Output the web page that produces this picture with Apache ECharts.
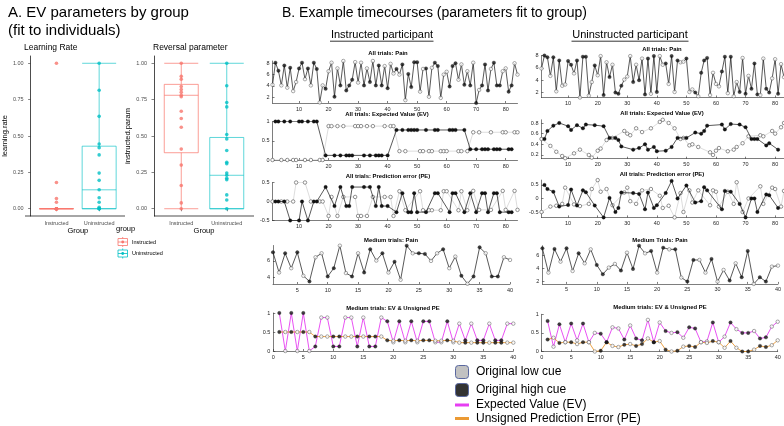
<!DOCTYPE html>
<html><head><meta charset="utf-8">
<script src="https://cdn.jsdelivr.net/npm/echarts@6/dist/echarts.min.js"></script>
<style>html,body{margin:0;padding:0;background:#fff}#c{width:784px;height:426px}</style>
</head><body><div id="c"></div>
<script>
// ---------------- DATA ----------------
const groups = ['Instructed', 'Uninstructed'];
const lrInstructed = [1.0, 0.18, 0.07, 0.045, 0, 0, 0, 0, 0, 0, 0, 0, 0, 0, 0, 0];
const lrUninstructed = [1.0, 0.815, 0.635, 0.445, 0.42, 0.37, 0.245, 0.195, 0.13, 0.075, 0.045, 0.01, 0, 0, 0];
const rpInstructed = [1.0, 0.91, 0.89, 0.84, 0.82, 0.80, 0.78, 0.77, 0.67, 0.62, 0.56, 0.41, 0.30, 0.16, 0.04, 0];
const rpUninstructed = [1.0, 0.845, 0.73, 0.70, 0.51, 0.48, 0.40, 0.32, 0.31, 0.245, 0.23, 0.21, 0.20, 0.095, 0.06, 0];
// box stats [min, Q1, median, Q3, max]
const lrBoxInstructed = [0, 0, 0, 0, 0];
const lrBoxUninstructed = [0, 0, 0.13, 0.43, 1.0];
const rpBoxInstructed = [0, 0.385, 0.78, 0.855, 1.0];
const rpBoxUninstructed = [0, 0, 0.23, 0.49, 1.0];
const boxTicks = [0, 0.25, 0.5, 0.75, 1];

// Instructed participant, all trials (cue: 1 = high cue, 0 = low cue)
const instrCue = [0,1,1,0,1,0,1,0,0,1, 1,0,1,0,1,1,0,0,1,0, 0,1,0,1,0,1,1,1,0,0, 0,1,0,1,0,1,1,1,0,1, 0,0,1,0,1,0,1,1,1,1, 0,0,1,0,0,1,1,0,0,0, 1,1,1,0,0,1,0,1,0,1, 0,1,1,1,0,1,1,1,0,0, 1,1,0,0];
const instrPain = [4.2,8.1,6.7,4.1,7.6,3.7,7.2,3.1,4.7,7.1, 8.1,5.2,7.1,4.1,8.1,7.0,1.1,4.1,3.5,6.6, 8.1,2.1,7.1,4.1,8.4,3.2,4.1,5.1,8.2,4.6, 8.1,4.1,7.1,4.7,8.4,4.1,7.6,4.1,7.5,3.6, 7.9,6.2,7.0,6.0,7.8,1.5,6.1,3.8,8.2,8.2, 3.0,7.0,7.1,2.1,7.2,8.1,7.5,1.9,6.0,6.5, 3.9,7.5,8.0,5.1,7.8,4.2,6.6,4.1,8.1,1.0, 3.3,4.1,7.8,3.2,7.0,8.1,4.1,4.1,6.6,7.1, 3.0,4.1,8.0,6.0];
const instrEV = [0,1,1,0,1,0,1,0,0,1, 1,0,1,0,1,1,0,0,0.12,0.88, 0.88,0.12,0.88,0.12,0.88,0.12,0.12,0.12,0.88,0.88, 0.88,0.12,0.88,0.12,0.88,0.12,0.12,0.12,0.88,0.12, 0.88,0.88,0.78,0.23,0.78,0.23,0.78,0.78,0.78,0.78, 0.23,0.23,0.78,0.23,0.23,0.78,0.78,0.23,0.23,0.23, 0.78,0.78,0.78,0.23,0.23,0.78,0.23,0.28,0.72,0.28, 0.72,0.28,0.28,0.28,0.72,0.28,0.28,0.28,0.72,0.72, 0.28,0.28,0.72,0.72];
const instrPE = [0,0,0,0,0,0,-0.5,0,0.5,-0.5, 0,0.5,-0.5,0,0,0,0,0,0.38,-0.38, 0.12,-0.12,-0.38,0.38,0.12,-0.12,-0.12,0.38,0.12,-0.38, -0.38,0.38,-0.38,0.38,0.12,-0.12,0.38,-0.12,0.12,-0.12, 0.12,-0.38,-0.28,0.27,0.22,-0.23,-0.28,-0.28,0.22,-0.28, 0.27,-0.23,-0.28,-0.23,-0.23,0.22,0.22,-0.23,0.27,0.27, -0.28,0.22,0.22,-0.23,0.27,-0.28,-0.23,0.22,0.28,-0.28, -0.22,0.22,0.22,-0.28,-0.22,0.22,0.22,-0.28,0.28,-0.22, -0.28,-0.28,0.28,-0.22];
// Instructed participant, medium trials
const instrMedCue = [1,0,1,0,1,0,1,0,0,1, 1,0,0,1,0,1,1,0,1,0, 1,0,1,0,1,1,0,0,1,0, 0,1,0,1,1,0,1,1,0,0];
const instrMedPain = [7.06,4.57,6.94,5.1,7.06,4.16,3.47,6.45,6.94,4.08, 5.1,7.88,4.5,4.08,6.94,4.57,7.43,6.04,6.94,4.57, 5.9,3.67,7.88,6.94,6.94,6.86,6.0,6.94,7.43,5.1, 6.53,4.16,3.18,4.08,7.67,6.94,4.08,4.08,6.45,6.12];
const instrMedEV = [1,0,1,0,1,0,0.12,0.88,0.88,0.12, 0.12,0.88,0.88,0.12,0.88,0.12,0.12,0.88,0.78,0.23, 0.78,0.23,0.78,0.23,0.78,0.78,0.23,0.23,0.78,0.23, 0.72,0.28,0.72,0.28,0.28,0.72,0.28,0.28,0.72,0.72];
const instrMedPE = [0.5,0.5,0.5,0.5,0.5,0.5,0.38,0.38,0.38,0.38, 0.38,0.38,0.38,0.38,0.38,0.38,0.38,0.38,0.28,0.27, 0.28,0.27,0.28,0.27,0.28,0.28,0.27,0.27,0.28,0.27, 0.22,0.22,0.22,0.22,0.22,0.22,0.22,0.22,0.22,0.22];

// Uninstructed participant, all trials
const uninCue = [0,1,1,0,1,0,1,0,0,1, 1,0,1,0,1,1,0,0,1,0, 0,1,0,1,0,1,1,1,0,0, 0,1,0,1,0,1,1,0,1,1, 0,0,1,0,1,0,1,0,0,1, 0,0,1,0,1,1,1,0,0,0, 0,1,1,0,1,0,0,1,0,1, 0,1,1,1,0,0,1,1,0,0, 1,0,0];
const uninPain = [5.9,8.0,7.7,4.7,7.7,2.2,7.2,3.1,3.3,7.1, 6.5,5.1,7.2,1.2,7.8,7.8,1.5,3.7,6.4,4.8, 7.9,1.6,6.9,4.5,6.5,2.0,1.8,3.1,4.1,4.6, 7.9,3.7,6.5,4.0,7.5,1.7,7.5,1.8,7.9,2.1, 7.9,6.5,6.7,3.4,7.9,2.1,7.2,6.9,7.0,7.5, 2.1,2.5,2.0,1.4,5.2,7.2,7.6,1.6,5.2,3.4, 3.0,5.4,7.8,1.9,7.8,1.4,3.7,2.1,7.6,1.8, 4.7,2.6,6.7,1.7,1.6,7.5,2.6,2.0,4.3,7.4, 1.8,6.6,4.5];
const uninEV = [0.50,0.50,0.65,0.37,0.75,0.26,0.80,0.18,0.14,0.74, 0.67,0.23,0.76,0.30,0.70,0.77,0.20,0.15,0.76,0.28, 0.32,0.74,0.48,0.52,0.52,0.52,0.48,0.36,0.65,0.60, 0.57,0.30,0.70,0.33,0.63,0.40,0.30,0.70,0.35,0.27, 0.82,0.86,0.28,0.80,0.35,0.70,0.52,0.50,0.52,0.52, 0.38,0.40,0.62,0.35,0.60,0.65,0.75,0.25,0.20,0.28, 0.33,0.77,0.68,0.27,0.78,0.30,0.35,0.77,0.42,0.72, 0.55,0.50,0.50,0.50,0.57,0.55,0.38,0.42,0.65,0.60, 0.30,0.72,0.80];
const uninPE = [-0.50,0.50,0.35,-0.30,0.25,-0.27,-0.30,-0.20,0.40,-0.24, 0.33,-0.22,-0.26,-0.28,0.30,0.23,-0.20,0.35,-0.26,0.68, 0.25,-0.70,0.35,0.02,-0.25,-0.50,-0.35,0.22,0.22,0.40, -0.10,0.20,-0.20,0.17,0.30,-0.40,0.22,0.35,-0.35,-0.25, 0.10,-0.35,0.20,-0.27,0.65,-0.70,0.00,0.20,-0.50,0.48, 0.30,-0.15,-0.15,0.30,-0.10,0.42,0.30,-0.25,0.30,0.25, -0.30,-0.40,0.28,0.25,0.25,-0.20,0.60,-0.20,-0.50,-0.70, 0.00,0.00,0.00,-0.50,0.45,-0.20,0.15,0.12,0.40,0.35, -0.35,-0.30,0.28];
// Uninstructed participant, medium trials
const uninMedCue = [1,0,1,0,1,0,1,0,0,1, 1,0,0,1,0,1,1,0,1,0, 1,0,1,0,1,1,0,0,1,0, 0,1,0,1,1,0,1,1,0,0];
const uninMedPain = [7.0,3.35,6.9,5.0,7.0,3.6,6.25,4.75,6.85,4.5, 3.1,4.1,4.65,3.65,6.35,3.9,7.4,6.25,6.6,3.35, 7.1,6.85,6.85,2.6,2.0,5.25,5.25,3.35,5.4,2.0, 3.75,2.15,4.75,2.65,6.6,1.65,2.65,2.0,4.25,4.4];
const uninMedEV = [0.82,0.13,0.73,0.25,0.75,0.30,0.75,0.25,0.50,0.48, 0.25,0.65,0.62,0.32,0.70,0.35,0.30,0.85,0.25,0.78, 0.55,0.50,0.52,0.37,0.65,0.62,0.25,0.27,0.78,0.25, 0.40,0.78,0.60,0.50,0.50,0.55,0.35,0.38,0.67,0.80];
const uninMedPE = [0.32,0.37,0.23,0.25,0.25,0.20,0.25,0.25,0.00,0.02, 0.25,0.15,0.12,0.18,0.20,0.15,0.20,0.35,0.25,0.28, 0.05,0.00,0.02,0.13,0.15,0.12,0.25,0.23,0.28,0.25, 0.10,0.28,0.10,0.00,0.00,0.05,0.15,0.12,0.17,0.30];

// tick labels
const xTicksAll = [10,20,30,40,50,60,70,80];
const xTicksMedPain = [5,10,15,20,25,30,35,40];
const xTicksMedEV = [0,5,10,15,20,25,30,35,40];

// ---------------- CHART ----------------
const FONT = '"Liberation Sans", Arial, Helvetica, sans-serif';
const RED = '#F8766D', TEAL = '#00BFC4';
const MAG = '#e63ef2', ORA = '#eb9a34';
const chart = echarts.init(document.getElementById('c'), null, {renderer: 'canvas'});

const grids = [], xAxes = [], yAxes = [], series = [], G = [];

function txt(x, y, text, size, o = {}) {
  G.push({type: 'text', x, y, silent: true, z: 10, style: {
    text, font: (o.bold ? 'bold ' : '') + size + 'px ' + FONT, fill: o.color || '#000',
    textAlign: o.align || 'left', align: o.align || 'left',
    textVerticalAlign: 'middle', verticalAlign: 'middle'}});
}
function ln(x1, y1, x2, y2, color, w) {
  G.push({type: 'line', silent: true, z: 10, shape: {x1, y1, x2, y2}, style: {stroke: color, lineWidth: w}});
}

const AX = '#262626';
function mAxis(ticks, fmt) {
  return {
    axisLine: {show: true, onZero: false, lineStyle: {color: AX, width: 0.6}},
    axisTick: {show: true, inside: true, length: 2, customValues: ticks, lineStyle: {color: AX, width: 0.6}},
    axisLabel: {customValues: ticks, fontSize: 5.5, color: AX, fontFamily: FONT, margin: 3, formatter: fmt},
    splitLine: {show: false}
  };
}
function panel(rect, xr, xt, yr, yt) {
  const gi = grids.length;
  grids.push({left: rect[0], top: rect[1], width: rect[2], height: rect[3], containLabel: false});
  xAxes.push(Object.assign({type: 'value', gridIndex: gi, min: xr[0], max: xr[1]}, mAxis(xt)));
  yAxes.push(Object.assign({type: 'value', gridIndex: gi, min: yr[0], max: yr[1]}, mAxis(yt)));
  return gi;
}
const allPts = (vals) => vals.map((v, i) => [i + 1, v]);
const cuePts = (cue, vals, c) => { const o = []; cue.forEach((k, i) => { if (k === c) o.push([i + 1, vals[i]]); }); return o; };

const SYM = 3.5;
const FILLED = {color: '#141414', borderColor: '#000', borderWidth: 0.3};
const OPEN = {color: '#ffffff', borderColor: '#4a4a4a', borderWidth: 0.6};

function painSeries(gi, cue, vals) {
  series.push({type: 'line', xAxisIndex: gi, yAxisIndex: gi, data: allPts(vals), symbol: 'none',
    lineStyle: {color: '#111', width: 0.7}, silent: true, animation: false, z: 2});
  series.push({type: 'scatter', xAxisIndex: gi, yAxisIndex: gi, data: cuePts(cue, vals, 1), symbolSize: SYM, itemStyle: FILLED, silent: true, animation: false, z: 3});
  series.push({type: 'scatter', xAxisIndex: gi, yAxisIndex: gi, data: cuePts(cue, vals, 0), symbolSize: SYM, itemStyle: OPEN, silent: true, animation: false, z: 3});
}
function cueSeries(gi, cue, vals) {
  series.push({type: 'line', xAxisIndex: gi, yAxisIndex: gi, data: cuePts(cue, vals, 0), symbol: 'circle', symbolSize: SYM,
    showAllSymbol: true, itemStyle: OPEN, lineStyle: {color: '#cdcdcd', width: 0.7}, silent: true, animation: false, z: 2});
  series.push({type: 'line', xAxisIndex: gi, yAxisIndex: gi, data: cuePts(cue, vals, 1), symbol: 'circle', symbolSize: SYM,
    showAllSymbol: true, itemStyle: FILLED, lineStyle: {color: '#111', width: 0.7}, silent: true, animation: false, z: 3});
}
function medSeries(gi, cue, ev, pe) {
  series.push({type: 'line', xAxisIndex: gi, yAxisIndex: gi, data: allPts(ev), symbol: 'none', lineStyle: {color: MAG, width: 0.9}, silent: true, animation: false, z: 2});
  series.push({type: 'line', xAxisIndex: gi, yAxisIndex: gi, data: allPts(pe), symbol: 'none', lineStyle: {color: ORA, width: 0.9}, silent: true, animation: false, z: 2});
  [ev, pe].forEach(v => {
    series.push({type: 'scatter', xAxisIndex: gi, yAxisIndex: gi, data: cuePts(cue, v, 1), symbolSize: SYM, itemStyle: FILLED, silent: true, animation: false, z: 3});
    series.push({type: 'scatter', xAxisIndex: gi, yAxisIndex: gi, data: cuePts(cue, v, 0), symbolSize: SYM, itemStyle: OPEN, silent: true, animation: false, z: 3});
  });
}

// ----- Panel A: boxplots -----
function boxPanel(left, title, yName, yGap, boxI, boxU, ptsI, ptsU) {
  const gi = grids.length;
  grids.push({left: left + 4.5, top: 56, width: 91, height: 160, containLabel: false});
  xAxes.push({type: 'category', gridIndex: gi, data: groups,
    axisLine: {show: false}, axisTick: {show: true, alignWithLabel: true, length: 2.5, lineStyle: {color: '#333', width: 0.6}},
    axisLabel: {fontSize: 5.5, color: '#4d4d4d', fontFamily: FONT, margin: 4},
    name: 'Group', nameLocation: 'middle', nameGap: 10, nameTextStyle: {fontSize: 7.5, color: '#000', fontFamily: FONT}});
  yAxes.push({type: 'value', gridIndex: gi, min: -0.05, max: 1.05, offset: 4.5,
    axisLine: {show: true, onZero: false, lineStyle: {color: '#000', width: 0.7}},
    axisTick: {show: true, length: 2.5, customValues: boxTicks, lineStyle: {color: '#333', width: 0.6}},
    axisLabel: {customValues: boxTicks, fontSize: 5.5, color: '#4d4d4d', fontFamily: FONT, margin: 7, formatter: v => v.toFixed(2)},
    splitLine: {show: false},
    name: yName, nameLocation: 'middle', nameRotate: 90, nameGap: yGap, nameTextStyle: {fontSize: 7.5, color: '#000', fontFamily: FONT}});
  series.push({type: 'boxplot', xAxisIndex: gi, yAxisIndex: gi, boxWidth: [34, 34], silent: true, animation: false,
    itemStyle: {color: '#fff', borderWidth: 0.9},
    data: [{value: boxI, itemStyle: {borderColor: 'rgba(248,118,109,0.8)'}}, {value: boxU, itemStyle: {borderColor: 'rgba(0,191,196,0.7)'}}]});
  series.push({type: 'scatter', xAxisIndex: gi, yAxisIndex: gi, data: ptsI.map(v => [0, v]), symbolSize: 3.6, itemStyle: {color: RED}, silent: true, animation: false, z: 4});
  series.push({type: 'scatter', xAxisIndex: gi, yAxisIndex: gi, data: ptsU.map(v => [1, v]), symbolSize: 3.6, itemStyle: {color: TEAL}, silent: true, animation: false, z: 4});
  ln(left, 216, left + 100, 216, '#000', 0.7);
  txt(left - 1, 48, title, 8.5);
}
boxPanel(25, 'Learning Rate', 'learning.rate', 20, lrBoxInstructed, lrBoxUninstructed, lrInstructed, lrUninstructed);
boxPanel(154, 'Reversal parameter', 'instructed.param', 22, rpBoxInstructed, rpBoxUninstructed, rpInstructed, rpUninstructed);

// group legend
txt(116, 229, 'group', 7.5);
[[RED, 'Instructed', 242], [TEAL, 'Uninstructed', 253.5]].forEach(([c, label, y]) => {
  ln(122.7, y - 5, 122.7, y + 5, c, 0.8);
  G.push({type: 'rect', silent: true, z: 10, shape: {x: 118, y: y - 3.5, width: 9.5, height: 7}, style: {fill: '#fff', stroke: c, lineWidth: 0.8}});
  ln(118, y, 127.5, y, c, 0.8);
  G.push({type: 'circle', silent: true, z: 11, shape: {cx: 122.7, cy: y, r: 1.4}, style: {fill: c}});
  txt(132, y, label, 5.5);
});

// ----- Panel B -----
const g1 = panel([272.5, 61, 245, 42], [1, 84], xTicksAll, [1, 8.4], [2, 4, 6, 8]);
painSeries(g1, instrCue, instrPain);
const g2 = panel([272.5, 121.5, 245, 38.5], [1, 84], xTicksAll, [0, 1], [0, 0.5, 1]);
cueSeries(g2, instrCue, instrEV);
const g3 = panel([272.5, 182.5, 245, 38], [1, 84], xTicksAll, [-0.5, 0.5], [-0.5, 0, 0.5]);
cueSeries(g3, instrCue, instrPE);
const g4 = panel([273, 245.5, 237, 38.5], [1, 40], xTicksMedPain, [3.15, 7.9], [4, 6]);
painSeries(g4, instrMedCue, instrMedPain);
const g5 = panel([273.3, 313, 240, 38], [0, 40], xTicksMedEV, [0, 1], [0, 0.5, 1]);
medSeries(g5, instrMedCue, instrMedEV, instrMedPE);

const h1 = panel([541.5, 55.5, 242.5, 42], [1, 83], xTicksAll, [1.2, 8.0], [2, 4, 6, 8]);
painSeries(h1, uninCue, uninPain);
const h2 = panel([541.5, 119.8, 242.5, 38.9], [1, 83], xTicksAll, [0.13, 0.86], [0.2, 0.4, 0.6, 0.8]);
cueSeries(h2, uninCue, uninEV);
const h3 = panel([541.5, 180.1, 242.5, 37.3], [1, 83], xTicksAll, [-0.7, 0.68], [-0.5, 0, 0.5]);
cueSeries(h3, uninCue, uninPE);
const h4 = panel([542.4, 245.7, 236.6, 38.2], [1, 40], xTicksMedPain, [1.65, 7.4], [2, 4, 6]);
painSeries(h4, uninMedCue, uninMedPain);
const h5 = panel([541.7, 314.3, 236, 37.2], [0, 40], xTicksMedEV, [0, 1], [0, 0.5, 1]);
medSeries(h5, uninMedCue, uninMedEV, uninMedPE);

// titles
txt(8, 13, 'A. EV parameters by group', 15);
txt(8, 30.5, '(fit to individuals)', 15);
txt(282, 13.5, 'B. Example timecourses (parameters fit to group)', 14);
txt(382, 35, 'Instructed participant', 11, {align: 'center'});
ln(330, 41.2, 433.5, 41.2, '#000', 0.8);
txt(630, 35, 'Uninstructed participant', 11, {align: 'center'});
ln(571.5, 41.2, 688.5, 41.2, '#000', 0.8);

const ST = 5.9;
txt(388, 53, 'All trials: Pain', ST, {align: 'center', bold: true});
txt(387, 114, 'All trials: Expected Value (EV)', ST, {align: 'center', bold: true});
txt(388, 176, 'All trials: Prediction error (PE)', ST, {align: 'center', bold: true});
txt(391, 240, 'Medium trials: Pain', ST, {align: 'center', bold: true});
txt(393, 308, 'Medium trials: EV & Unsigned PE', ST, {align: 'center', bold: true});
txt(662, 49, 'All trials: Pain', ST, {align: 'center', bold: true});
txt(662, 113, 'All trials: Expected Value (EV)', ST, {align: 'center', bold: true});
txt(662, 174, 'All trials: Prediction error (PE)', ST, {align: 'center', bold: true});
txt(660, 240, 'Medium Trials: Pain', ST, {align: 'center', bold: true});
txt(660, 307, 'Medium trials: EV & Unsigned PE', ST, {align: 'center', bold: true});

// bottom legend
G.push({type: 'rect', silent: true, z: 10, shape: {x: 455.5, y: 365.5, width: 13, height: 13, r: 3}, style: {fill: '#c2c2c2', stroke: '#5a68a0', lineWidth: 1}});
G.push({type: 'rect', silent: true, z: 10, shape: {x: 455.5, y: 383.5, width: 13, height: 13, r: 3}, style: {fill: '#333333', stroke: '#5a68a0', lineWidth: 1}});
ln(455, 405, 469, 405, MAG, 3);
ln(455, 418.5, 469, 418.5, ORA, 3);
txt(476, 372, 'Original low cue', 12);
txt(476, 390, 'Original high cue', 12);
txt(476, 405, 'Expected Value (EV)', 12);
txt(476, 418.5, 'Unsigned Prediction Error (PE)', 12);

chart.setOption({
  animation: false,
  backgroundColor: '#fff',
  textStyle: {fontFamily: FONT},
  grid: grids, xAxis: xAxes, yAxis: yAxes, series: series, graphic: G
});
</script></body></html>
